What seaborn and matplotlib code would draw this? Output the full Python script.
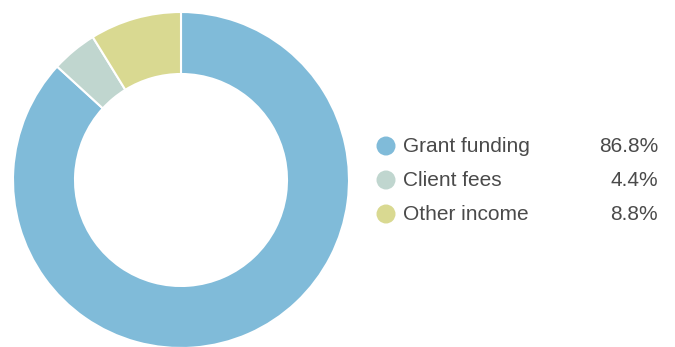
import matplotlib
matplotlib.use("Agg")
import matplotlib.pyplot as plt
from matplotlib.patches import Circle
import seaborn as sns

categories = ["Grant funding", "Client fees", "Other income"]
shares = [86.8, 4.4, 8.8]
colors = ["#80bbd9", "#c0d6cf", "#d9d991"]

sns.set_theme(style="white")
plt.rcParams["font.family"] = ["Liberation Sans", "DejaVu Sans"]
palette = sns.color_palette(colors)

W, H = 675, 347
fig = plt.figure(figsize=(W / 100, H / 100), dpi=100)
ax = fig.add_axes([0, 0, 1, 1])
ax.set_xlim(0, W)
ax.set_ylim(0, H)
ax.set_aspect("equal")
ax.axis("off")

cx, cy = 181, H - 180
R_out, R_in = 168, 106
ax.pie(shares, colors=palette, startangle=90, counterclock=False,
       center=(cx, cy), radius=R_out, frame=True,
       wedgeprops=dict(width=R_out - R_in, edgecolor="white", linewidth=1.5))
ax.set_xlim(0, W)
ax.set_ylim(0, H)
ax.axis("off")

text_color = "#4a4a4a"
row_y = [146, 180, 214]
for name, val, col, y in zip(categories, shares, palette, row_y):
    yy = H - y
    ax.add_patch(Circle((386, yy), 9.5, color=col, lw=0))
    ax.text(403, yy, name, fontsize=15, color=text_color, va="center", ha="left")
    ax.text(658, yy, f"{val:.1f}%", fontsize=15, color=text_color, va="center", ha="right")

fig.savefig("out.png", dpi=100)
